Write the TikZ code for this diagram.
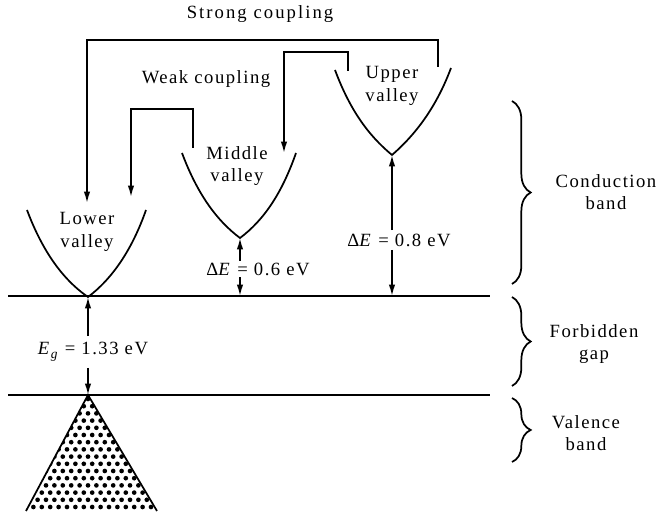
\documentclass[tikz,border=0pt]{standalone}
\usepackage{fontspec}
\setmainfont{Liberation Serif}[LetterSpace=8]
\usetikzlibrary{arrows.meta,decorations.pathreplacing}
\begin{document}
\begin{tikzpicture}[x=0.75pt,y=-0.75pt,
  line width=1.2pt,
  arr/.style={-{Latex[length=8.5pt,width=4.8pt]}},
  lbl/.style={font=\fontsize{14}{17}\selectfont, align=center, inner sep=0pt},
  vlbl/.style={font=\fontsize{14}{17}\selectfont, inner sep=2pt},
  valley/.style={line width=1.3pt},
  bracedec/.style={decorate, decoration={brace, amplitude=14pt}, line width=1.3pt}]
\useasboundingbox (0,0) rectangle (658,516);

% key coordinates
\coordinate (vU) at (392,155);
\coordinate (vM) at (240,238);
\coordinate (vL) at (88,297);
\coordinate (cbL) at (8,296);
\coordinate (cbR) at (490,296);
\coordinate (vbL) at (8,395);
\coordinate (vbR) at (490,395);
\coordinate (apex) at (88,395);

% band edges
\draw (cbL) -- (cbR);
\draw (vbL) -- (vbR);

% valleys
\draw[valley] (335,70) .. controls (350,110) and (368,135) .. (vU) .. controls (415,135) and (436,108) .. (451,68);
\draw[valley] (182,153) .. controls (197,193) and (216,220) .. (vM) .. controls (264,220) and (282,193) .. (296,153);
\draw[valley] (27,210) .. controls (42,250) and (62,279) .. (vL) .. controls (112,279) and (132,250) .. (146,210);

% valley labels
\node[lbl] (upper) at (392,86) {Upper\\valley};
\node[lbl] (middle) at (237,166) {Middle\\valley};
\node[lbl] (lower) at (87,232) {Lower\\valley};

% coupling connectors
\coordinate (sU) at (438,67);
\coordinate (sL) at (87,203);
\coordinate (wU) at (348,71);
\coordinate (wM) at (284,153);
\coordinate (wM2) at (193,148);
\coordinate (wL) at (131,197);
\draw[arr] (sU) -- ++(0,-27) -| (sL);
\draw[arr] (wU) -- ++(0,-19) -| (wM);
\draw[arr] (wM2) -- ++(0,-39) -| (wL);
\node[lbl, font=\fontsize{14}{17}\selectfont\addfontfeature{LetterSpace=11}] (strong) at (260,14) {Strong coupling};
\node[lbl] (weak) at (206,79) {Weak coupling};

% energy differences
\coordinate (bU) at (392,296);
\coordinate (bM) at (240,296);
\node[vlbl] (d8) at (399,240) {Δ\textit{E} = 0.8 eV};
\draw[arr] (d8.north -| vU) -- (vU);
\draw[arr] (d8.south -| vU) -- (bU);
\node[vlbl, inner sep=1pt] (d6) at (258,269) {Δ\textit{E} = 0.6 eV};
\draw[arr] (d6.north -| vM) -- (vM);
\draw[arr] (d6.south -| vM) -- (bM);
\node[vlbl, inner sep=4pt] (eg) at (93,352) {\textit{E}\raisebox{-0.5ex}{\fontsize{10}{10}\selectfont\textit{g}} = 1.33 eV};
\draw[arr] (eg.north -| vL) -- (vL);
\draw[arr] (eg.south -| vL) -- (apex);

% valence band triangle with dots
\begin{scope}
  \clip (apex) -- (26,511) -- (157,511) -- cycle;
  \foreach \r in {0,...,16} {
    \foreach \c in {-10,...,10} {
      \fill ({88 + \c*8.4 + mod(\r,2)*4.2}, {399 + \r*7.2}) circle[radius=1.75pt];
    }
  }
\end{scope}
\draw[valley] (26,511) -- (apex) -- (157,511);

% braces
\draw[bracedec] (512,101) -- (512,284);
\draw[bracedec] (512,297) -- (512,386);
\draw[bracedec] (512,398) -- (512,462);
\node[lbl] (cond) at (606,192) {Conduction\\band};
\node[lbl] (forb) at (594,344) {Forbidden\\gap};
\node[lbl] (val) at (586,433) {Valence\\band};
\end{tikzpicture}
\end{document}
